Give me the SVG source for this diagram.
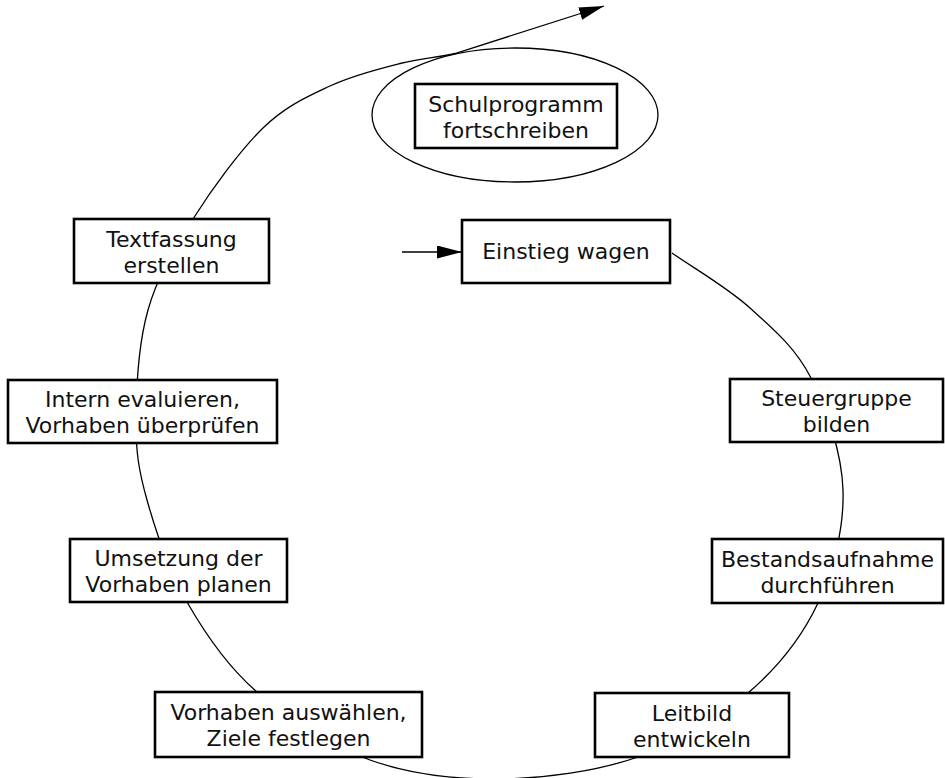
<svg xmlns="http://www.w3.org/2000/svg" width="945" height="778" viewBox="0 0 945 778">
<style>
.box{fill:#fff;stroke:#000;stroke-width:2.6}
.lbl{font-family:"DejaVu Sans","Noto Sans",sans-serif;font-size:22px;fill:#111;text-anchor:middle}
.con{fill:none;stroke:#000;stroke-width:1.3}
</style>
<defs>
<marker id="arr" markerUnits="userSpaceOnUse" markerWidth="26" markerHeight="14" refX="25" refY="6.5" orient="auto">
<path d="M0,0 L25,6.5 L0,13 Z" fill="#000"/>
</marker>
</defs>
<rect width="945" height="778" fill="#fff"/>
<g id="connectors">
<path class="con" marker-end="url(#arr)" d="M672,253 C698,271 726.8,287.2 750,308 C773.2,328.8 795.5,347.7 811,378 C826.5,408.3 841.8,452.5 843,490 C844.2,527.5 833.8,569.2 818,603 C802.2,636.8 778,667.3 748,693 C718,718.7 679.3,742.7 638,757 C596.7,771.3 544.7,778.5 500,779 C455.3,779.5 410.5,774.5 370,760 C329.5,745.5 287.5,718.3 257,692 C226.5,665.7 205.3,634 187,602 C168.7,570 155.5,530.3 147,500 C138.5,469.7 135.8,451.7 136,420 C136.2,388.3 138.5,343.5 148,310 C157.5,276.5 173.8,249.3 193,219 C212.2,188.7 240.2,150.2 263,128 C285.8,105.8 307.2,96.8 330,86 C352.8,75.2 379.2,68.7 400,63.5 C420.8,58.3 437,57.5 455,53.5 L604,6"/>
<path class="con" marker-end="url(#arr)" d="M402,252 L462,252"/>
<ellipse class="con" cx="515" cy="115" rx="143" ry="67"/>
</g>
<g id="schulprogramm">
<rect class="box" x="415" y="84" width="202" height="64"/>
<text class="lbl" x="516" y="111.5">Schulprogramm</text>
<text class="lbl" x="516" y="137.5">fortschreiben</text>
</g>
<g id="einstieg">
<rect class="box" x="462" y="220" width="208" height="63"/>
<text class="lbl" x="566" y="259">Einstieg wagen</text>
</g>
<g id="steuergruppe">
<rect class="box" x="730" y="379" width="213" height="63"/>
<text class="lbl" x="836.5" y="406">Steuergruppe</text>
<text class="lbl" x="836.5" y="432">bilden</text>
</g>
<g id="bestandsaufnahme">
<rect class="box" x="712" y="539" width="231" height="64"/>
<text class="lbl" x="827.5" y="566.5">Bestandsaufnahme</text>
<text class="lbl" x="827.5" y="592.5">durchführen</text>
</g>
<g id="leitbild">
<rect class="box" x="595" y="693" width="194" height="64"/>
<text class="lbl" x="692" y="720.5">Leitbild</text>
<text class="lbl" x="692" y="746.5">entwickeln</text>
</g>
<g id="vorhaben-auswaehlen">
<rect class="box" x="155" y="692" width="267" height="65"/>
<text class="lbl" x="288.5" y="720">Vorhaben auswählen,</text>
<text class="lbl" x="288.5" y="746">Ziele festlegen</text>
</g>
<g id="umsetzung">
<rect class="box" x="70" y="539" width="217" height="63"/>
<text class="lbl" x="178.5" y="566">Umsetzung der</text>
<text class="lbl" x="178.5" y="592">Vorhaben planen</text>
</g>
<g id="evaluieren">
<rect class="box" x="8" y="380" width="269" height="63"/>
<text class="lbl" x="142.5" y="407">Intern evaluieren,</text>
<text class="lbl" x="142.5" y="433">Vorhaben überprüfen</text>
</g>
<g id="textfassung">
<rect class="box" x="74" y="219" width="195" height="64"/>
<text class="lbl" x="171.5" y="246.5">Textfassung</text>
<text class="lbl" x="171.5" y="272.5">erstellen</text>
</g>
</svg>
